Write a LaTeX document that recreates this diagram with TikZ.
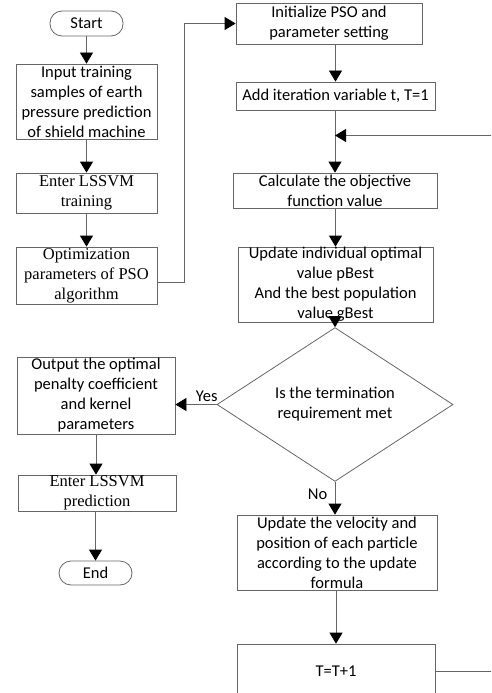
\documentclass[tikz,border=0pt]{standalone}
\usepackage{fontspec}
\setmainfont{Carlito}
\newfontfamily\timesfont{Liberation Serif}
\usetikzlibrary{positioning, shapes.geometric, arrows.meta}

\begin{document}
\begin{tikzpicture}[
  x=1pt, y=-1pt,
  font=\fontsize{16.5}{20}\selectfont,
  box/.style={draw=black!60, line width=0.8pt, rectangle, align=center, inner sep=0pt},
  term/.style={box, rounded corners=12pt},
  cond/.style={draw=black!60, line width=0.8pt, diamond, align=center, inner sep=0pt},
  link/.style={draw=black!60, line width=0.8pt},
  arr/.style={link, -{Triangle[width=13pt,length=11pt,color=black]}},
  serif/.style={font=\timesfont\fontsize{16.5}{20}\selectfont},
]
  \useasboundingbox (0,0) rectangle (491,693);
  \clip (0,0) rectangle (491,693);

  % left column
  \node[term, minimum width=73pt, minimum height=25pt] (start) at (86.5,23.5) {Start};
  \node[box, minimum width=141pt, minimum height=75pt] (inp) at (86.5,101.5)
    {Input training\\samples of earth\\pressure prediction\\of shield machine};
  \node[box, serif, minimum width=141pt, minimum height=40pt] (trn) at (86.5,193)
    {Enter LSSVM\\training};
  \node[box, serif, minimum width=141pt, minimum height=57pt] (opt) at (86.5,275.5)
    {Optimization\\parameters of PSO\\algorithm};

  % right column
  \node[box, minimum width=186pt, minimum height=41pt] (init) at (329,23.5)
    {Initialize PSO and\\parameter setting};
  \node[box, minimum width=199pt, minimum height=28pt] (iter) at (335.5,96)
    {Add iteration variable t, T=1};
  \node[box, minimum width=204pt, minimum height=35pt] (calc) at (335,190.5)
    {Calculate the objective\\function value};
  \node[box, minimum width=195pt, minimum height=75pt] (upd) at (335.5,284.5)
    {Update individual optimal\\value pBest\\And the best population\\value gBest};
  \node[cond, minimum width=236pt, minimum height=111pt] (test) at (335,404.5)
    {Is the termination\\requirement met};
  \node[box, minimum width=200pt, minimum height=75pt] (vel) at (337,552.5)
    {Update the velocity and\\position of each particle\\according to the update\\formula};
  \node[box, minimum width=198pt, minimum height=54pt] (tnext) at (336,671) {T=T+1};

  % lower left column
  \node[box, minimum width=158pt, minimum height=77pt] (out) at (96,395.5)
    {Output the optimal\\penalty coefficient\\and kernel\\parameters};
  \node[box, serif, minimum width=158pt, minimum height=36pt] (pre) at (97,493)
    {Enter LSSVM\\prediction};
  \node[term, minimum width=73pt, minimum height=24pt] (finish) at (95.5,573) {End};

  \coordinate (loopin) at (491,135.5);
  \coordinate (loopout) at (491,671);

  % connectors
  \draw[arr] (start) -- (inp);
  \draw[arr] (inp) -- (trn);
  \draw[arr] (trn) -- (opt);
  \draw[arr] ([yshift=-6.5pt]opt.east) -- ++(27,0) |- (init.west);
  \draw[arr] (init.south -| iter.north) -- (iter.north);
  \draw[arr] (iter.south -| calc.north) -- (calc.north);
  \draw[arr] (loopin) -- (loopin -| calc.north);
  \draw[arr] (calc.south -| upd.north) -- (upd.north);
  \draw[arr] (upd.south -| test.north) -- (test.north);
  \draw[arr] (test.west) -- node[above=-1pt, pos=0.24] {Yes} (test.west -| out.east);
  \draw[arr] (test.south) -- node[left=4pt, pos=0.38] {No} (test.south |- vel.north);
  \draw[arr] (vel.south -| tnext.north) -- (tnext.north);
  \draw[link] (tnext.east) -- (loopout);
  \draw[arr] (out) -- (out.south |- pre.north);
  \draw[arr] (pre.south -| finish.north) -- (finish.north);
\end{tikzpicture}
\end{document}
